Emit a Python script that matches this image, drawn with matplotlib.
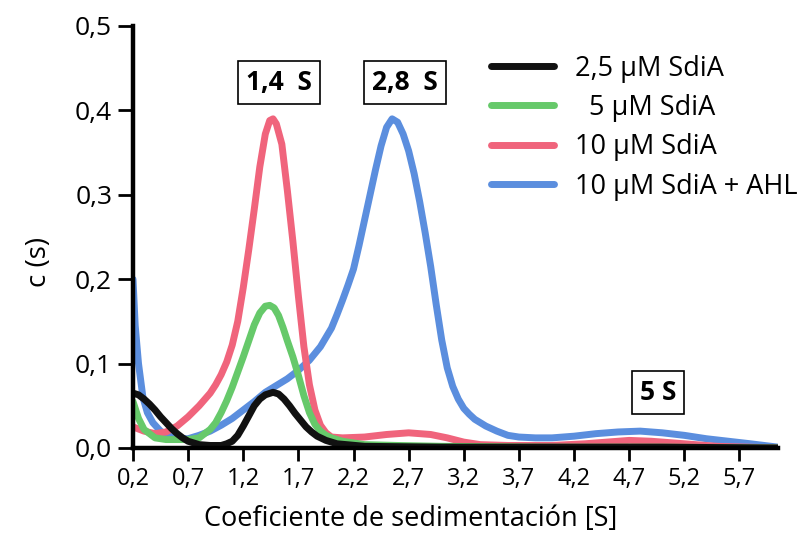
import matplotlib
matplotlib.use("Agg")
import matplotlib.pyplot as plt

plt.rcParams['font.family'] = ['Open Sans', 'DejaVu Sans']

# curvas (coeficiente de sedimentacion, c(s))
x_25 = [0.2, 0.25, 0.3, 0.35, 0.4, 0.45, 0.5, 0.55, 0.6, 0.65, 0.7, 0.8, 0.9,
        1.0, 1.05, 1.1, 1.15, 1.2, 1.25, 1.3, 1.35, 1.4, 1.47, 1.52, 1.57,
        1.62, 1.67, 1.72, 1.77, 1.82, 1.87, 1.95, 2.05, 2.3, 3.0, 4.0, 5.0, 6.05]
c_25 = [0.065, 0.063, 0.058, 0.052, 0.045, 0.037, 0.03, 0.023, 0.017, 0.012,
        0.008, 0.004, 0.003, 0.003, 0.005, 0.008, 0.015, 0.026, 0.038, 0.05,
        0.058, 0.063, 0.066, 0.064, 0.058, 0.05, 0.041, 0.033, 0.025, 0.019,
        0.014, 0.009, 0.005, 0.002, 0.001, 0.001, 0.001, 0.0]

x_5 = [0.2, 0.25, 0.3, 0.4, 0.5, 0.6, 0.7, 0.8, 0.9, 0.95, 1.0, 1.05, 1.1,
       1.15, 1.2, 1.25, 1.3, 1.35, 1.4, 1.44, 1.48, 1.52, 1.56, 1.6, 1.65,
       1.7, 1.75, 1.8, 1.85, 1.9, 1.95, 2.0, 2.1, 2.3, 2.6, 3.0, 4.0, 5.0, 6.05]
c_5 = [0.055, 0.035, 0.022, 0.012, 0.01, 0.01, 0.01, 0.012, 0.022, 0.03,
       0.042, 0.056, 0.072, 0.09, 0.108, 0.127, 0.146, 0.16, 0.168, 0.169,
       0.166, 0.157, 0.143, 0.127, 0.108, 0.086, 0.062, 0.042, 0.028, 0.02,
       0.015, 0.012, 0.008, 0.004, 0.003, 0.002, 0.001, 0.001, 0.0]

x_10 = [0.2, 0.3, 0.4, 0.5, 0.6, 0.7, 0.8, 0.9, 0.95, 1.0, 1.05, 1.1, 1.15,
        1.2, 1.25, 1.3, 1.35, 1.4, 1.44, 1.47, 1.5, 1.55, 1.6, 1.65, 1.7,
        1.75, 1.8, 1.85, 1.9, 1.95, 2.0, 2.1, 2.3, 2.5, 2.7, 2.9, 3.05, 3.2,
        3.35, 3.6, 4.0, 4.3, 4.5, 4.7, 4.9, 5.1, 5.3, 5.5, 6.05]
c_10 = [0.025, 0.02, 0.017, 0.019, 0.026, 0.037, 0.05, 0.065, 0.075, 0.087,
        0.102, 0.122, 0.15, 0.19, 0.235, 0.283, 0.333, 0.372, 0.388, 0.39,
        0.384, 0.36, 0.305, 0.245, 0.18, 0.12, 0.075, 0.045, 0.027, 0.018,
        0.013, 0.012, 0.013, 0.016, 0.018, 0.016, 0.012, 0.007, 0.004, 0.003,
        0.003, 0.005, 0.007, 0.009, 0.008, 0.006, 0.004, 0.002, 0.0]

x_ahl = [0.2, 0.22, 0.25, 0.29, 0.33, 0.38, 0.45, 0.51, 0.6, 0.7, 0.8, 0.9,
         1.0, 1.1, 1.2, 1.3, 1.4, 1.5, 1.6, 1.7, 1.8, 1.9, 2.0, 2.05, 2.1,
         2.15, 2.2, 2.25, 2.3, 2.35, 2.4, 2.45, 2.5, 2.55, 2.6, 2.65, 2.7,
         2.75, 2.8, 2.85, 2.9, 2.95, 3.0, 3.05, 3.1, 3.15, 3.2, 3.25, 3.3,
         3.4, 3.5, 3.6, 3.7, 3.85, 4.0, 4.2, 4.4, 4.6, 4.8, 5.0, 5.2, 5.4,
         5.6, 5.8, 6.05]
c_ahl = [0.2, 0.145, 0.1, 0.06, 0.042, 0.03, 0.02, 0.015, 0.011, 0.011,
         0.015, 0.02, 0.027, 0.035, 0.045, 0.055, 0.066, 0.074, 0.082, 0.092,
         0.104, 0.12, 0.142, 0.158, 0.175, 0.193, 0.212, 0.24, 0.27, 0.3,
         0.33, 0.358, 0.38, 0.39, 0.386, 0.372, 0.352, 0.325, 0.292, 0.255,
         0.215, 0.17, 0.128, 0.095, 0.073, 0.058, 0.047, 0.04, 0.034, 0.026,
         0.02, 0.015, 0.013, 0.012, 0.012, 0.014, 0.017, 0.019, 0.02, 0.018,
         0.015, 0.011, 0.008, 0.005, 0.001]

series = [
    (x_25, c_25, '2,5 µM SdiA', '#111111'),
    (x_5, c_5, '  5 µM SdiA', '#66c96a'),
    (x_10, c_10, '10 µM SdiA', '#f0647c'),
    (x_ahl, c_ahl, '10 µM SdiA + AHL', '#5b8ede'),
]

x_ticks = [0.2, 0.7, 1.2, 1.7, 2.2, 2.7, 3.2, 3.7, 4.2, 4.7, 5.2, 5.7]
x_labels = ['0,2', '0,7', '1,2', '1,7', '2,2', '2,7', '3,2', '3,7', '4,2', '4,7', '5,2', '5,7']
y_ticks = [0.0, 0.1, 0.2, 0.3, 0.4, 0.5]
y_labels = ['0,0', '0,1', '0,2', '0,3', '0,4', '0,5']

fig = plt.figure(figsize=(8.11, 5.41), dpi=100)
ax = fig.add_axes([133 / 811, 93 / 541, 645 / 811, 422 / 541])

# orden de dibujo: el negro encima
for xs, ys, lab, col in [series[3], series[2], series[1], series[0]]:
    ax.plot(xs, ys, color=col, lw=5, label=lab, solid_capstyle='round',
            solid_joinstyle='round')

ax.set_xlim(0.2, 6.05)
ax.set_ylim(0, 0.5)
ax.set_xticks(x_ticks)
ax.set_xticklabels(x_labels)
ax.set_yticks(y_ticks)
ax.set_yticklabels(y_labels)
ax.tick_params(direction='out', width=2)
ax.tick_params(axis='x', length=9, labelsize=17, pad=5)
ax.tick_params(axis='y', length=11, labelsize=19, pad=4)
for s in ['top', 'right']:
    ax.spines[s].set_visible(False)
for s in ['left', 'bottom']:
    ax.spines[s].set_linewidth(3.2)

ax.set_xlabel('Coeficiente de sedimentación [S]', fontsize=19.5, labelpad=10, x=0.43)
ax.set_ylabel('c (s)', fontsize=20, labelpad=16, y=0.44)

box = dict(boxstyle='square,pad=0.3', fc='white', ec='black', lw=1.2)
ax.text(1.525, 0.433, '1,4  S', fontsize=19, fontweight='bold', ha='center',
        va='center', bbox=box)
ax.text(2.668, 0.433, '2,8  S', fontsize=19, fontweight='bold', ha='center',
        va='center', bbox=box)
ax.text(4.964, 0.066, '5 S', fontsize=19, fontweight='bold', ha='center',
        va='center', bbox=box)

h, l = ax.get_legend_handles_labels()
ax.legend(h[::-1], l[::-1], loc='upper left', bbox_to_anchor=(0.518, 0.99),
          frameon=False, fontsize=19.5, handlelength=2.3, handletextpad=0.8,
          labelspacing=0.42)

fig.savefig('out.png', dpi=100)
